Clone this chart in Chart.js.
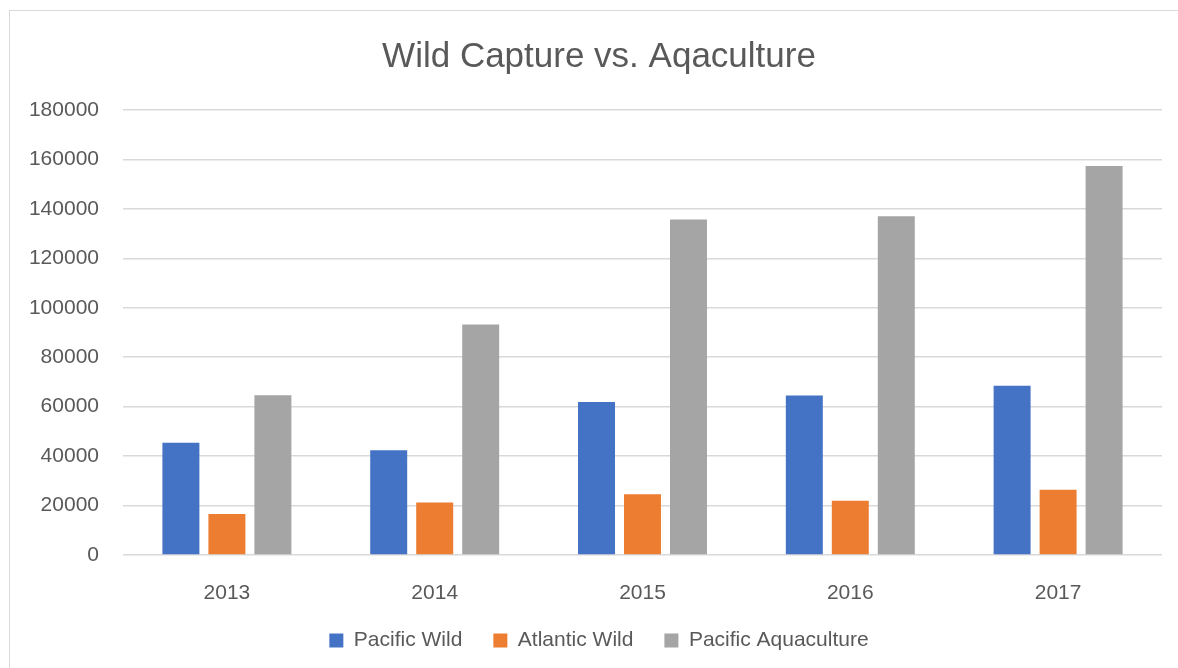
<!DOCTYPE html>
<html>
<head>
<meta charset="utf-8">
<title>Wild Capture vs. Aqaculture</title>
<script src="https://cdn.jsdelivr.net/npm/chart.js@4.4.0/dist/chart.umd.min.js"></script>
<style>
    html, body { margin: 0; padding: 0; background: #fff; overflow: hidden; }
    #frame {
        position: absolute; left: 9px; top: 10px;
        width: 1200px; height: 720px;
        box-sizing: border-box;
        border: 1px solid #d9d9d9;
    }
    #chart { position: absolute; left: 0; top: 0; }
</style>
</head>
<body>
<div id="frame"></div>
<canvas id="chart" width="1178" height="661"></canvas>
<script>
const years = ['2013', '2014', '2015', '2016', '2017']
const pacificWild = [45400, 42400, 61900, 64500, 68500]
const atlanticWild = [16600, 21200, 24600, 21900, 26400]
const pacificAquaculture = [64600, 93200, 135700, 137000, 157300]

const yMax = 180000
const yStep = 20000

Chart.defaults.font.family = "'Liberation Sans', Arial, sans-serif"
Chart.defaults.color = '#595959'

let elem = document.getElementById('chart')
let chart = new Chart(elem, {
    type: 'bar',
    data: {
        labels: years,
        datasets: [
            { label: 'Pacific Wild', data: pacificWild, backgroundColor: '#4472C4' },
            { label: 'Atlantic Wild', data: atlanticWild, backgroundColor: '#ED7D31' },
            { label: 'Pacific Aquaculture', data: pacificAquaculture, backgroundColor: '#A5A5A5' }
        ]
    },
    options: {
        responsive: false,
        animation: false,
        categoryPercentage: 0.664,
        barPercentage: 0.804,
        layout: { padding: { left: 20, right: 0, top: 0, bottom: 0 } },
        plugins: {
            title: {
                display: true,
                text: 'Wild Capture vs. Aqaculture',
                color: '#595959',
                font: { size: 35, weight: 'normal' },
                padding: { top: 36, bottom: 32 }
            },
            legend: {
                position: 'bottom',
                labels: {
                    boxWidth: 14,
                    boxHeight: 14,
                    padding: 31,
                    color: '#595959',
                    font: { size: 21 }
                }
            },
            tooltip: { enabled: false }
        },
        scales: {
            x: {
                grid: { display: false },
                border: { display: false },
                ticks: { padding: 18, font: { size: 21 }, color: '#595959' },
                afterFit: function (scale) { scale.height = 44 }
            },
            y: {
                min: 0,
                max: yMax,
                grid: { color: '#d9d9d9', lineWidth: 1.5, drawTicks: false },
                border: { display: false },
                ticks: {
                    stepSize: yStep,
                    padding: 24,
                    font: { size: 21 },
                    color: '#595959',
                    callback: function (value) { return String(value) }
                },
                afterFit: function (scale) { scale.width = 103 }
            },
            // empty right-hand spacer so the plot ends where the original does
            spacer: {
                type: 'linear',
                position: 'right',
                grid: { display: false },
                border: { display: false },
                ticks: { display: false },
                afterFit: function (scale) { scale.width = 16 }
            }
        }
    }
})
</script>
</body>
</html>
